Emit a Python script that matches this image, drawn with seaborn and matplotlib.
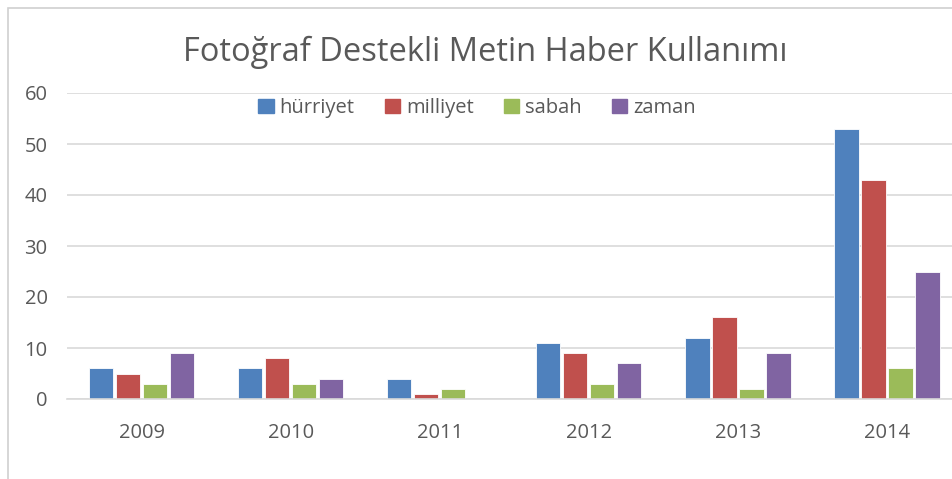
import numpy as np
import pandas as pd
import matplotlib
matplotlib.use("Agg")
import matplotlib.pyplot as plt
import matplotlib.patches as mpatches
import seaborn as sns

years = ["2009", "2010", "2011", "2012", "2013", "2014"]
hurriyet = [6, 6, 4, 11, 12, 53]
milliyet = [5, 8, 1, 9, 16, 43]
sabah = [3, 3, 2, 3, 2, 6]
zaman = [9, 4, 0, 7, 9, 25]
series = ["hürriyet", "milliyet", "sabah", "zaman"]
colors = ["#4f81bd", "#c0504d", "#9bbb59", "#8064a2"]

df = pd.DataFrame({
    "year": years * 4,
    "paper": np.repeat(series, len(years)),
    "value": hurriyet + milliyet + sabah + zaman,
})

sns.set_style("white")
plt.rcParams["font.family"] = ["Open Sans", "DejaVu Sans"]

fig = plt.figure(figsize=(9.53, 4.79), dpi=100)
ax = fig.add_axes([67 / 953, 1 - 399 / 479, (961.5 - 67) / 953, (399 - 93) / 479])

sns.barplot(
    data=df, x="year", y="value", hue="paper", hue_order=series,
    palette=colors, saturation=1, width=0.725, gap=0.1, ax=ax, legend=False,
    edgecolor="white", linewidth=0.6,
)

ax.set_ylim(0, 60)
ax.set_yticks(range(0, 61, 10))
ax.yaxis.grid(True, color="#d9d9d9", linewidth=1.2)
ax.set_axisbelow(True)
for s in ["top", "right", "left"]:
    ax.spines[s].set_visible(False)
ax.spines["bottom"].set_color("#d9d9d9")
ax.spines["bottom"].set_linewidth(1.2)
ax.set_xlabel("")
ax.set_ylabel("")
ax.tick_params(axis="both", length=0, labelsize=14.5, colors="#595959")
ax.tick_params(axis="x", pad=17)
ax.tick_params(axis="y", pad=14)

fig.text(485 / 953, 1 - 52 / 479, "Fotoğraf Destekli Metin Haber Kullanımı",
         ha="center", va="center", fontsize=23.5, color="#595959")

handles = [mpatches.Patch(color=c, label=s) for c, s in zip(colors, series)]
fig.legend(handles=handles, loc="center", bbox_to_anchor=(477 / 953, 1 - 108 / 479),
           ncol=4, frameon=False, fontsize=14.5, handlelength=0.75, handleheight=0.75,
           handletextpad=0.3, columnspacing=1.5, labelcolor="#595959")

# chart border
fig.add_artist(mpatches.Rectangle((8 / 953, -0.1), 1.1, 1.1 - 8 / 479,
                                  transform=fig.transFigure, fill=False,
                                  edgecolor="#d0d0d0", linewidth=1.2))

fig.savefig("out.png", dpi=100)
